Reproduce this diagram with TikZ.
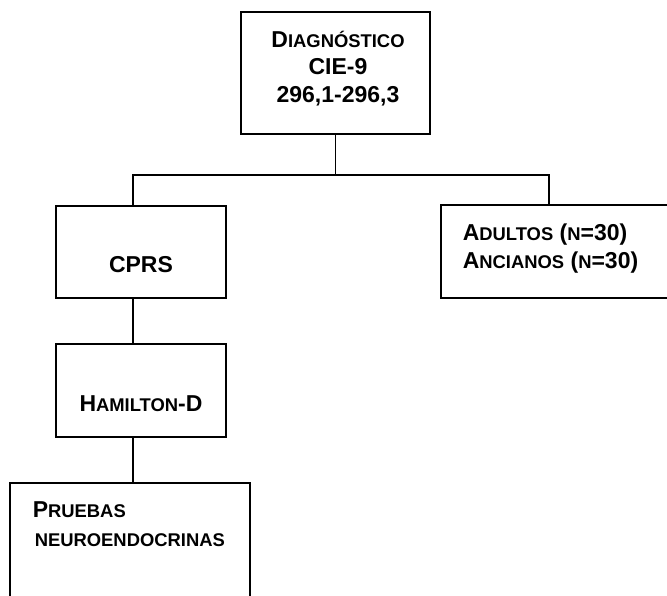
\documentclass[tikz,border=0pt]{standalone}
\usepackage{fontspec}
\setmainfont{Liberation Sans}
\usetikzlibrary{calc}

\newcommand{\peq}[1]{{\fontsize{18.4}{22}\selectfont #1}}

\tikzset{
  caja/.style={draw, line width=1.5pt, inner sep=0pt},
  texto/.style={font=\fontsize{23}{27.5}\selectfont\bfseries, inner sep=0pt},
}

\begin{document}
\begin{tikzpicture}[x=1pt, y=-1pt, line width=1.5pt]
        \useasboundingbox (0,0) rectangle (667,595);
        \clip (0,0) rectangle (667,595);

        \node (diag) at (335.5,73) [caja, minimum width=189pt, minimum height=122pt] {};
        \node (cprs) at (141,252) [caja, minimum width=170pt, minimum height=92pt] {};
        \node (hamilton) at (141,390.5) [caja, minimum width=170pt, minimum height=93pt] {};
        \node (pruebas) at (130,583) [caja, minimum width=240pt, minimum height=200pt] {};
        \node (adultos) at (561,251.5) [caja, minimum width=240pt, minimum height=93pt] {};

        \node (diagtxt) at (338,102) [texto, anchor=base, align=center]
            {D\peq{IAGNÓSTICO}\\CIE-9\\296,1-296,3};
        \node (cprstxt) at (141,272) [texto, anchor=base] {CPRS};
        \node (hamtxt) at (141,411) [texto, anchor=base] {H\peq{AMILTON}-D};
        \node (adultxt) at (462,268) [texto, anchor=base west, align=left]
            {A\peq{DULTOS} (\peq{N}=30)\\A\peq{NCIANOS} (\peq{N}=30)};
        \node (pruetxt) at (32,517) [texto, anchor=base west] {P\peq{RUEBAS}};
        \node (neurotxt) at (34,546) [texto, anchor=base west] {\peq{NEUROENDOCRINAS}};

        \coordinate (bus) at (0,175);
        \coordinate (cprsin) at ([xshift=-8pt]cprs.north);
        \coordinate (adulin) at ([xshift=-12pt]adultos.north);

        \draw (diag.south) -- (diag.south |- bus);
        \draw (cprsin) -- (cprsin |- bus) -- (adulin |- bus) -- (adulin);
        \draw ([xshift=-8pt]cprs.south) -- ([xshift=-8pt]hamilton.north);
        \draw ([xshift=-8pt]hamilton.south) -- ([xshift=3pt]pruebas.north);
    \end{tikzpicture}
\end{document}
